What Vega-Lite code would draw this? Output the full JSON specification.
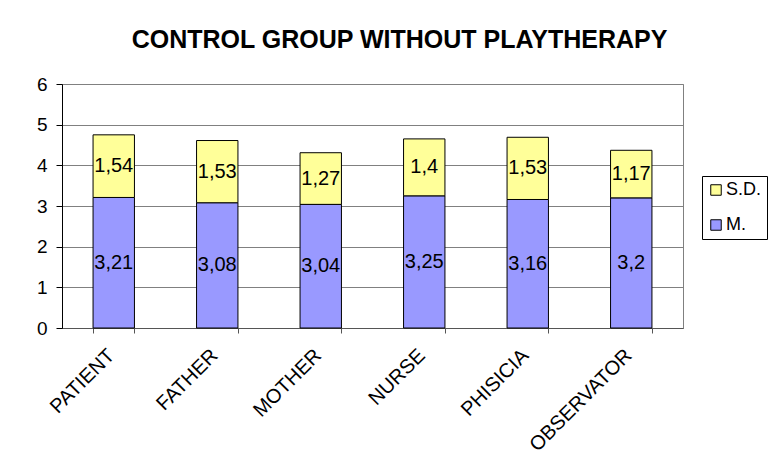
{
  "$schema": "https://vega.github.io/schema/vega-lite/v6.json",
  "width": 621,
  "height": 244,
  "autosize": "none",
  "padding": {"left": 62, "top": 84, "right": 88, "bottom": 139},
  "background": "white",
  "config": {
    "font": "Liberation Sans",
    "locale": {"number": {"decimal": ",", "thousands": ".", "grouping": [3], "currency": ["", " €"]}},
    "view": {"stroke": "#808080", "strokeWidth": 1}
  },
  "title": {
    "text": "CONTROL GROUP WITHOUT PLAYTHERAPY",
    "fontSize": 25,
    "fontWeight": "bold",
    "font": "Liberation Sans",
    "color": "black",
    "anchor": "middle",
    "dx": 27,
    "offset": 22
  },
  "data": {
    "values": [
      {"role": "PATIENT", "stat": "M.", "value": 3.21},
      {"role": "PATIENT", "stat": "S.D.", "value": 1.54},
      {"role": "FATHER", "stat": "M.", "value": 3.08},
      {"role": "FATHER", "stat": "S.D.", "value": 1.53},
      {"role": "MOTHER", "stat": "M.", "value": 3.04},
      {"role": "MOTHER", "stat": "S.D.", "value": 1.27},
      {"role": "NURSE", "stat": "M.", "value": 3.25},
      {"role": "NURSE", "stat": "S.D.", "value": 1.4},
      {"role": "PHISICIA", "stat": "M.", "value": 3.16},
      {"role": "PHISICIA", "stat": "S.D.", "value": 1.53},
      {"role": "OBSERVATOR", "stat": "M.", "value": 3.2},
      {"role": "OBSERVATOR", "stat": "S.D.", "value": 1.17}
    ]
  },
  "transform": [
    {"calculate": "datum.stat === 'M.' ? 0 : 1", "as": "ord"},
    {"stack": "value", "groupby": ["role"], "sort": [{"field": "ord", "order": "ascending"}], "as": ["v0", "v1"]},
    {"calculate": "(datum.v0 + datum.v1) / 2", "as": "mid"}
  ],
  "encoding": {
    "x": {
      "field": "role",
      "type": "nominal",
      "sort": ["PATIENT", "FATHER", "MOTHER", "NURSE", "PHISICIA", "OBSERVATOR"],
      "scale": {"paddingInner": 0.6, "paddingOuter": 0.3},
      "axis": {
        "title": null,
        "labelAngle": -45,
        "labelFontSize": 20,
        "labelColor": "black",
        "labelPadding": 12,
        "labelOffset": -10,
        "domainColor": "#555555",
        "tickColor": "#555555",
        "tickBand": "extent",
        "tickSize": 5,
        "grid": false
      }
    }
  },
  "layer": [
    {
      "mark": {"type": "bar", "stroke": "black", "strokeWidth": 1},
      "encoding": {
        "y": {
          "field": "v0",
          "type": "quantitative",
          "scale": {"domain": [0, 6]},
          "axis": {
            "title": null,
            "tickCount": 6,
            "labelFontSize": 19,
            "labelColor": "black",
            "domainColor": "black",
            "tickColor": "black",
            "tickSize": 6,
            "gridColor": "#808080",
            "gridOpacity": 1,
            "labelPadding": 9
          }
        },
        "y2": {"field": "v1"},
        "color": {
          "field": "stat",
          "type": "nominal",
          "scale": {"domain": ["S.D.", "M."], "range": ["#FFFF99", "#9999FF"]},
          "legend": {
            "title": null,
            "orient": "none",
            "legendX": 640,
            "legendY": 92,
            "symbolType": "square",
            "symbolSize": 110,
            "symbolStrokeColor": "black",
            "symbolStrokeWidth": 1,
            "symbolOpacity": 1,
            "labelFontSize": 18,
            "labelColor": "black",
            "labelOffset": 1,
            "rowPadding": 17,
            "strokeColor": "black",
            "padding": 5,
            "fillColor": "white"
          }
        }
      }
    },
    {
      "mark": {"type": "text", "fontSize": 20, "color": "black", "baseline": "middle"},
      "encoding": {
        "y": {"field": "mid", "type": "quantitative"},
        "text": {"field": "value", "type": "quantitative", "format": ".3~g"}
      }
    }
  ]
}
